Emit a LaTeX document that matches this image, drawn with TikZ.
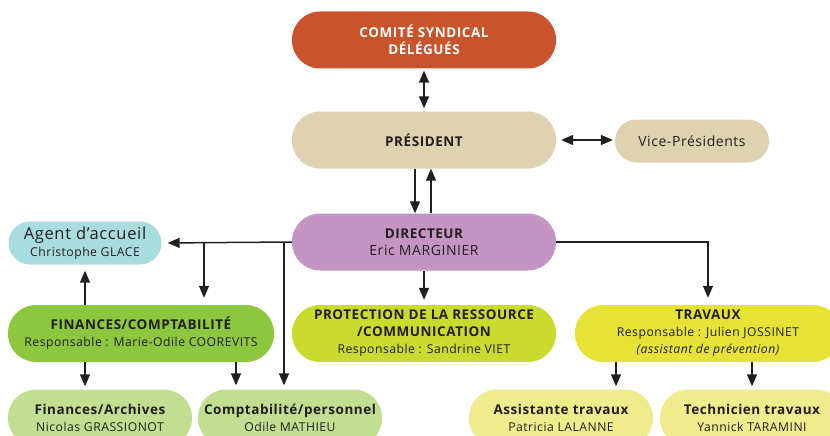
\documentclass[tikz,border=0pt]{standalone}
\usepackage{fontspec}
\setmainfont{Open Sans}[LetterSpace=4]
\usetikzlibrary{arrows.meta,positioning}

\definecolor{comite}{HTML}{C9532A}
\definecolor{beige}{HTML}{DFD2B0}
\definecolor{mauve}{HTML}{C495C2}
\definecolor{accueil}{HTML}{A9DCDF}
\definecolor{vert}{HTML}{8DC63F}
\definecolor{vertclair}{HTML}{C2DE90}
\definecolor{anis}{HTML}{CADB2F}
\definecolor{jaune}{HTML}{E6E236}
\definecolor{jauneclair}{HTML}{EFEC8E}
\definecolor{texte}{HTML}{231F20}

\newcommand{\titre}{\fontsize{13.5}{15.8}\selectfont\bfseries}
\newcommand{\sous}{\fontsize{12.2}{15}\selectfont}

\begin{document}
\begin{tikzpicture}[x=1pt, y=-1pt,
    every node/.style={text=texte, align=center, font=\fontsize{14}{17}\selectfont},
    pill/.style={rounded corners=28pt, minimum width=264pt, minimum height=57pt, inner sep=0pt},
    petit/.style={rounded corners=21.5pt, minimum height=43pt, inner sep=0pt},
    fl/.style={-{Triangle[length=12pt, width=10pt]}, line width=1.5pt, draw=texte},
    fld/.style={{Triangle[length=12pt, width=10pt]}-{Triangle[length=12pt, width=10pt]}, line width=1.5pt, draw=texte} ]

    \clip (0,0) rectangle (830,436);

    % haut
    \node[pill, fill=comite, text=white] (comite) at (424,40) {\titre COMITÉ SYNDICAL\\\titre DÉLÉGUÉS};
    \node[pill, fill=beige] (pres) at (424,140) {\titre PRÉSIDENT};
    \node[petit, fill=beige, minimum width=154pt] (vice) at (692,141) {Vice-Présidents};
    \node[pill, fill=mauve] (dir) at (424,242) {\titre DIRECTEUR\\Eric MARGINIER};

    % services
    \node[petit, fill=accueil, minimum width=153pt] (agent) at (85,243)
        {\fontsize{16.5}{16.5}\selectfont Agent d’accueil\\\sous Christophe GLACE};
    \node[pill, fill=vert, minimum width=266pt] (fin) at (141,333.5)
        {\titre FINANCES/COMPTABILITÉ\\\sous Responsable : Marie-Odile COOREVITS};
    \node[pill, fill=anis] (prot) at (424,333.5)
        {\titre PROTECTION DE LA RESSOURCE\\\titre /COMMUNICATION\\\sous Responsable : Sandrine VIET};
    \node[pill, fill=jaune, minimum width=266pt] (trav) at (708,333.5)
        {\titre TRAVAUX\\\sous Responsable : Julien JOSSINET\\\sous\itshape (assistant de prévention)};

    % agents
    \node[pill, fill=vertclair, minimum width=184pt] (arch) at (100,418)
        {\titre Finances/Archives\\\sous Nicolas GRASSIONOT};
    \node[pill, fill=vertclair, minimum width=184pt] (compta) at (290,418)
        {\titre Comptabilité/personnel\\\sous Odile MATHIEU};
    \node[pill, fill=jauneclair, minimum width=184pt] (assist) at (561,418)
        {\titre Assistante travaux\\\sous Patricia LALANNE};
    \node[pill, fill=jauneclair, minimum width=184pt] (tech) at (752,418)
        {\titre Technicien travaux\\\sous Yannick TARAMINI};

    \coordinate (jf) at (204,242);
    \coordinate (jc) at (284,242);

    % liaisons
    \draw[fld, shorten <=2pt, shorten >=3pt] (comite.south) -- (pres.north);
    \draw[fld, shorten <=5pt, shorten >=2pt] (pres.east) -- (pres.east -| vice.west);
    \draw[fl] ([xshift=-9pt]pres.south) -- ([xshift=-9pt]dir.north);
    \draw[fl] ([xshift=7pt]dir.north) -- ([xshift=7pt]pres.south);
    \draw[fl, shorten >=5pt] (dir.south) -- (prot.north);
    \draw[fl, shorten >=6pt] (dir.west) -- (agent.east);
    \draw[fl, shorten >=7pt] (jf) -- (jf |- fin.north);
    \draw[fl, shorten >=4pt] (jc) -- (jc |- compta.north);
    \draw[fl, shorten >=7pt] (dir.east) -| (trav.north);
    \draw[fl, shorten >=6pt] (agent.south |- fin.north) -- (agent.south);
    \draw[fl, shorten >=3pt] (agent.south |- fin.south) -- (agent.south |- arch.north);
    \draw[fl, shorten >=4pt] ([xshift=-54pt]compta.north |- fin.south) -- ([xshift=-54pt]compta.north);
    \draw[fl, shorten >=3pt] ([xshift=55pt]assist.north |- trav.south) -- ([xshift=55pt]assist.north);
    \draw[fl, shorten >=3pt] (tech.north |- trav.south) -- (tech.north);

\end{tikzpicture}
\end{document}
